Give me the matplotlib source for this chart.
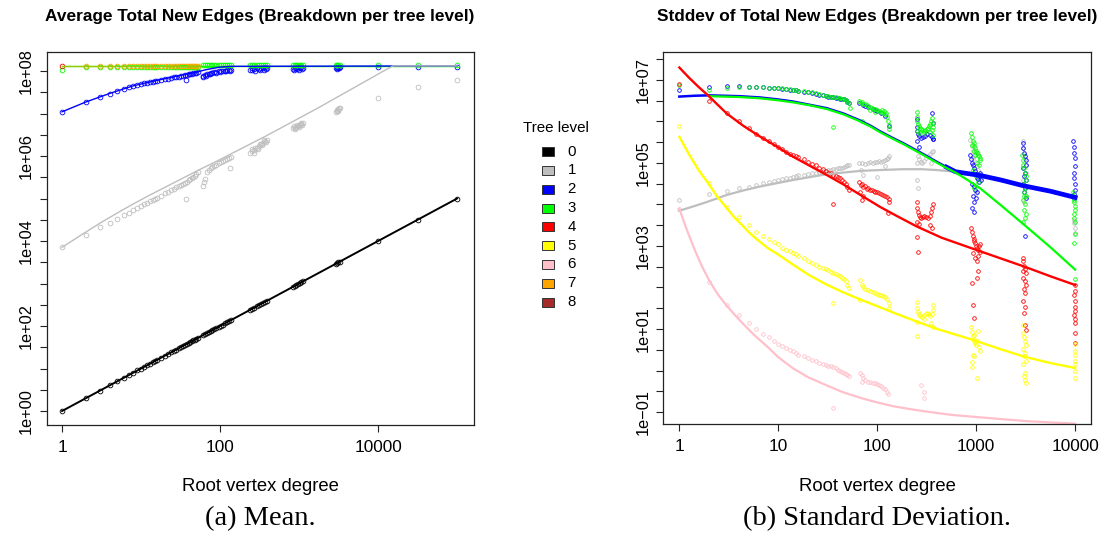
import numpy as np
import matplotlib
matplotlib.use("Agg")
import matplotlib.pyplot as plt
from matplotlib.patches import Rectangle

plt.rcParams['font.family'] = ['Liberation Sans', 'DejaVu Sans']

# R colour names used per tree level
level_colors = ['#000000', '#BEBEBE', '#0000FF', '#00FF00', '#FF0000',
                '#FFFF00', '#FFC0CB', '#FFA500', '#A52A2A']
level_names = ['0', '1', '2', '3', '4', '5', '6', '7', '8']

# root degrees measured one by one
deg = [1, 2, 3, 4, 5, 6, 7, 8, 9, 10, 11, 12, 13, 14, 15, 16, 18, 20, 22, 24,
       26, 28, 30, 32, 34, 36, 38, 40, 42, 44, 46, 48, 50, 52]

# ---------------- mean panel ----------------
# degrees of the grouped samples (60-140, 240-390, 840-1120, ~3000, big roots)
mean_grp = [61, 64, 68, 72, 76, 80, 85, 90, 96, 102, 108, 115, 122, 130, 138,
            240, 255, 270, 290, 310, 330, 350, 370, 390,
            840, 880, 920, 970, 1020, 1070, 1120,
            2950, 3050, 3150, 3250,
            10000, 31623, 100000]
mean_x = deg + mean_grp

# level 0: new edges equal the root degree
mean_l0 = [1, 2, 3, 4, 5, 6, 7, 8, 9, 10, 11, 12, 13, 14, 15, 16, 18, 20, 22, 24,
           26, 28, 30, 32, 34, 36, 38, 40, 42, 44, 46, 48, 50, 52,
           61, 64, 68, 72, 76, 80, 85, 90, 96, 102, 108, 115, 122, 130, 138,
           240, 255, 270, 290, 310, 330, 350, 370, 390,
           840, 880, 920, 970, 1020, 1070, 1120,
           2950, 3050, 3150, 3250,
           10000, 31623, 100000]

# log10 of the mean for levels 1-3
mean_l1_log = [3.85, 4.14, 4.32, 4.43, 4.52, 4.61, 4.66, 4.72, 4.77, 4.82, 4.86, 4.90,
               4.93, 4.96, 4.99, 5.02, 5.07, 5.12, 5.16, 5.20, 5.23, 5.26, 5.29, 5.32,
               5.35, 5.37, 5.40, 5.43, 5.45, 5.48, 5.50, 5.54, 5.58, 5.62,
               5.30, 5.45, 5.62, 5.68, 5.71, 5.74, 5.77, 5.80, 5.83, 5.86, 5.88, 5.91,
               5.93, 5.95, 5.98,
               6.06, 6.12, 6.15, 6.20, 6.24, 6.28, 6.31, 6.35, 6.38,
               6.65, 6.67, 6.69, 6.71, 6.73, 6.75, 6.77,
               7.04, 7.07, 7.10, 7.12,
               7.37, 7.62, 7.80]
mean_l2_log = [7.04, 7.28, 7.40, 7.47, 7.54, 7.58, 7.62, 7.65, 7.67, 7.69, 7.71, 7.72,
               7.74, 7.75, 7.76, 7.77, 7.79, 7.81, 7.82, 7.84, 7.85, 7.86, 7.87, 7.88,
               7.89, 7.90, 7.91, 7.92, 7.93, 7.94, 7.95, 7.96, 7.96, 7.97,
               7.89, 7.91, 7.93, 7.94, 7.95, 7.96, 7.97, 7.98, 7.99, 8.00, 8.01, 8.01,
               8.02, 8.02, 8.03,
               8.03, 8.07, 8.04, 8.08, 8.05, 8.08, 8.06, 8.09, 8.07,
               8.05, 8.08, 8.06, 8.09, 8.07, 8.09, 8.08,
               8.08, 8.10, 8.08, 8.10,
               8.10, 8.10, 8.10]
mean_l3_log = [8.02] + [8.09] * 33 + [8.13] * 38

# extra samples inside the grouped blobs and a few stragglers
mean_l1_ex_x = [37, 133, 63, 250, 265, 280, 300, 320, 340, 360, 380,
                860, 900, 950, 1000, 1050, 1100, 3000, 3100, 3200]
mean_l1_ex_log = [4.98, 5.71, 5.40, 6.16, 6.08, 6.19, 6.16, 6.29, 6.26, 6.37, 6.33,
                  6.70, 6.64, 6.73, 6.68, 6.78, 6.72, 7.09, 7.05, 7.14]
mean_l2_ex_x = [37, 61, 66, 75, 88, 100, 118, 135, 250, 280, 320, 360, 385,
                860, 940, 1000, 1100, 3000, 3200]
mean_l2_ex_log = [7.80, 7.86, 7.88, 7.92, 7.95, 7.97, 7.99, 8.00, 8.02, 8.01, 8.03,
                  8.03, 8.04, 8.03, 8.04, 8.03, 8.05, 8.05, 8.06]

# deeper levels saturate near the graph size for small roots
mean_l4_x = [1]
mean_l4_log = [8.12]
mean_l7_x = deg[1:]
mean_l7_log = [8.12] * 33

# fitted curves: log10(degree), log10(value)
mean_fit_l0_lx = [0.0, 5.0]
mean_fit_l0_log = [0.0, 5.0]
mean_fit_l1_lx = [0, 0.25, 0.48, 0.7, 0.9, 1.1, 1.32, 1.53, 1.74, 1.96, 2.17, 2.38,
                  2.59, 2.8, 3.02, 3.23, 3.43, 3.65, 3.86, 4.05, 4.19, 5.0]
mean_fit_l1_log = [3.85, 4.15, 4.42, 4.66, 4.87, 5.07, 5.28, 5.48, 5.68, 5.88, 6.08,
                   6.28, 6.48, 6.69, 6.91, 7.12, 7.33, 7.56, 7.78, 7.98, 8.12, 8.12]
mean_fit_l2_lx = [0, 0.3, 0.48, 0.6, 0.7, 0.78, 0.9, 1.08, 1.28, 1.48, 1.67, 1.82,
                  1.99, 2.14, 5.0]
mean_fit_l2_log = [7.04, 7.27, 7.39, 7.47, 7.53, 7.58, 7.65, 7.73, 7.81, 7.89, 7.96,
                   8.03, 8.09, 8.11, 8.12]
mean_fit_l3_lx = [0.0, 5.0]
mean_fit_l3_log = [8.12, 8.12]
mean_fit_l7_lx = [0.0, 1.75]
mean_fit_l7_log = [8.12, 8.12]

# ---------------- stddev panel ----------------
sd_l1_log = [4.11, 4.25, 4.33, 4.39, 4.43, 4.47, 4.52, 4.53, 4.56, 4.58, 4.61, 4.63,
             4.65, 4.67, 4.68, 4.70, 4.72, 4.73, 4.75, 4.77, 4.79, 4.80, 4.81, 4.82,
             4.84, 4.85, 4.86, 4.87, 4.88, 4.89, 4.90, 4.92, 4.94, 4.95]
sd_l2_log = [6.77, 6.83, 6.85, 6.85, 6.84, 6.83, 6.82, 6.81, 6.81, 6.80, 6.79, 6.78,
             6.77, 6.76, 6.75, 6.74, 6.72, 6.71, 6.69, 6.67, 6.65, 6.63, 6.61, 6.60,
             6.60, 6.58, 6.57, 6.56, 6.55, 6.54, 6.53, 6.51, 6.48, 6.44]
sd_l3_log = [6.88, 6.77, 6.81, 6.82, 6.83, 6.82, 6.82, 6.81, 6.81, 6.80, 6.80, 6.79,
             6.78, 6.77, 6.76, 6.74, 6.73, 6.72, 6.70, 6.68, 6.66, 6.63, 6.62, 6.61,
             6.60, 6.59, 6.58, 6.57, 6.56, 6.55, 6.53, 6.51, 6.48, 6.44]
sd_l4_log = [6.91, 6.50, 6.20, 6.01, 5.85, 5.69, 5.61, 5.53, 5.45, 5.39, 5.34, 5.27,
             5.22, 5.20, 5.17, 5.15, 5.09, 5.03, 4.98, 4.94, 4.89, 4.85, 4.81, 4.77,
             4.75, 4.72, 4.69, 4.66, 4.63, 4.59, 4.54, 4.50, 4.43, 4.35]
sd_l5_log = [5.90, 4.52, 3.94, 3.69, 3.50, 3.34, 3.23, 3.16, 3.09, 3.05, 2.96, 2.91,
             2.88, 2.84, 2.80, 2.76, 2.71, 2.65, 2.60, 2.55, 2.50, 2.46, 2.44, 2.41,
             2.38, 2.35, 2.32, 2.29, 2.27, 2.24, 2.20, 2.15, 2.07, 1.98]
sd_l6_log = [3.90, 2.14, 1.58, 1.34, 1.15, 1.00, 0.88, 0.80, 0.72, 0.65, 0.58, 0.55,
             0.50, 0.46, 0.41, 0.38, 0.34, 0.30, 0.26, 0.22, 0.18, 0.16, 0.14, 0.12,
             0.10, 0.08, 0.05, 0.02, -0.01, -0.03, -0.05, -0.08, -0.12, -0.14]

# grouped samples per level: degree and log10 stddev
sd_l1_grp_x = [66, 70, 75, 80, 85, 90, 95, 100, 105, 110, 115, 120, 125, 130, 68, 72, 100,
               120, 128,
               250, 258, 266, 275, 285, 295, 310, 325, 340, 355, 365, 255, 350, 252, 258,
               870, 900, 930, 960, 990, 1020, 1050, 1080, 1110, 950, 1000, 920, 1040,
               2950, 3000, 3050, 3100, 3150, 3200, 3000, 3100, 3200, 3050,
               9700, 9800, 9900, 10000]
sd_l1_grp_log = [4.99, 5.01, 4.97, 5.00, 5.02, 5.01, 5.03, 5.02, 5.04, 5.03, 5.05, 5.07,
                 5.09, 5.16, 4.82, 4.72, 4.67, 4.92, 5.11,
                 5.32, 5.18, 5.09, 5.03, 5.01, 5.05, 5.11, 5.16, 5.22, 5.26, 5.30, 4.99,
                 4.99, 4.59, 4.40,
                 5.56, 5.41, 5.28, 5.16, 5.03, 4.92, 4.82, 4.73, 4.63, 4.44, 4.28, 5.11, 5.25,
                 5.53, 5.37, 5.22, 5.09, 4.94, 4.77, 4.58, 4.39, 4.20, 4.07,
                 3.63, 3.55, 3.44, 3.31]
sd_l2_grp_x = [66, 72, 80, 90, 100, 110, 120, 130, 75, 95,
               250, 255, 260, 265, 275, 290, 305, 320, 340, 355, 365, 370, 252, 262, 360,
               368, 250,
               870, 890, 910, 930, 950, 970, 990, 1010, 1030, 1050, 1070, 1090, 1110, 900,
               940, 980, 1020, 1060, 920, 960, 1000, 900, 940,
               2950, 3000, 3050, 3100, 3150, 3200, 3000, 3100, 3050, 3150, 2950, 3100, 3050,
               3200, 3100,
               9600, 9700, 9800, 9900, 10000, 9700, 9800, 9900, 10000, 9700, 9800]
sd_l2_grp_log = [6.44, 6.40, 6.35, 6.29, 6.25, 6.20, 6.14, 5.89, 6.37, 6.27,
                 5.87, 5.78, 5.70, 5.64, 5.60, 5.63, 5.66, 5.70, 5.68, 5.63, 5.58, 5.97,
                 5.52, 5.39, 6.20, 5.57, 6.06,
                 5.19, 5.09, 5.01, 4.94, 4.87, 4.80, 4.74, 4.71, 4.65, 4.61, 4.68, 4.77,
                 4.58, 4.49, 4.44, 4.34, 4.30, 4.53, 4.20, 4.06, 4.15, 3.91, 3.83,
                 5.48, 5.35, 5.25, 5.16, 5.06, 4.96, 4.87, 4.77, 4.68, 4.58, 4.49, 4.39,
                 4.30, 4.15, 3.23,
                 5.52, 5.39, 5.25, 5.11, 4.92, 4.77, 4.63, 4.49, 4.34, 4.25, 4.15]
sd_l3_grp_x = [36, 53,
               66, 68, 70, 72, 75, 78, 80, 84, 88, 92, 96, 100, 105, 110, 115, 120, 125,
               128, 130, 132, 70, 85, 95, 112, 118, 122,
               250, 252, 255, 258, 262, 268, 275, 285, 295, 305, 315, 325, 335, 345, 352,
               358, 364, 368, 255, 265, 300, 340, 360, 370,
               880, 900, 920, 940, 960, 980, 1000, 1020, 1040, 1060, 1080, 1100, 900, 940,
               980, 1020, 1060, 920, 1000, 1050, 960,
               2900, 2950, 3000, 3050, 3100, 3150, 3200, 3000, 3100, 3050, 3150, 3000,
               3100, 3050, 3150, 3100, 3000, 3050,
               9500, 9600, 9700, 9800, 9900, 10000, 9800, 9700, 9900, 10000, 9800, 10000]
sd_l3_grp_log = [5.87, 6.32,
                 6.50, 6.44, 6.47, 6.42, 6.41, 6.39, 6.37, 6.35, 6.33, 6.31, 6.29, 6.28,
                 6.25, 6.23, 6.20, 6.18, 6.11, 6.01, 5.92, 5.82, 6.02, 6.27, 6.24, 6.28,
                 6.25, 6.21,
                 6.23, 6.11, 6.01, 5.95, 5.89, 5.85, 5.82, 5.79, 5.78, 5.79, 5.81, 5.85,
                 5.89, 5.95, 6.01, 6.08, 5.97, 5.87, 5.78, 5.73, 5.72, 5.74, 5.79, 5.68,
                 5.72, 5.63, 5.54, 5.49, 5.41, 5.35, 5.30, 5.25, 5.20, 5.16, 5.11, 5.06,
                 5.44, 5.30, 5.20, 5.01, 4.96, 4.82, 4.68, 4.53, 4.39,
                 5.19, 5.06, 4.96, 4.87, 4.77, 4.68, 4.58, 4.49, 4.39, 4.30, 4.20, 4.11,
                 4.01, 3.87, 3.77, 3.68, 3.59, 4.20,
                 4.31, 4.20, 4.11, 4.06, 3.96, 3.87, 3.77, 3.68, 3.58, 3.30, 3.08, 2.20]
sd_l4_grp_x = [36,
               66, 68, 70, 72, 75, 78, 80, 84, 88, 92, 96, 100, 105, 110, 115, 120, 125,
               130, 132, 128, 67, 72, 70,
               250, 254, 258, 263, 270, 280, 290, 300, 312, 325, 338, 350, 360, 368, 255,
               262, 345, 360, 252, 256,
               880, 900, 920, 940, 960, 980, 1000, 1020, 1040, 1060, 1080, 1100, 930, 970,
               1010, 1050, 900, 920, 940, 1050, 1020,
               2950, 3000, 3050, 3100, 3150, 3000, 3100, 3150, 3050, 3100, 3000, 3100,
               3050, 3100, 3150, 3000,
               10000, 10000, 9800, 10000, 9900, 10000, 9800, 10000, 9900, 10000, 10000]
sd_l4_grp_log = [4.00,
                 4.53, 4.46, 4.50, 4.42, 4.44, 4.38, 4.40, 4.36, 4.34, 4.32, 4.31, 4.30,
                 4.27, 4.25, 4.23, 4.21, 4.17, 4.13, 4.06, 3.79, 4.30, 4.20, 4.11,
                 4.07, 3.91, 3.82, 3.75, 3.70, 3.68, 3.69, 3.72, 3.70, 3.68, 3.72, 3.82,
                 3.91, 4.01, 3.58, 3.53, 3.50, 3.44, 3.21, 2.86,
                 3.44, 3.34, 3.25, 3.18, 3.12, 3.07, 3.01, 2.96, 2.91, 2.99, 3.06, 2.86,
                 2.82, 2.72, 2.63, 2.77, 2.11, 1.58, 1.26, 2.39, 2.24,
                 2.71, 2.63, 2.53, 2.44, 2.34, 2.24, 2.15, 2.05, 1.96, 1.86, 1.67, 1.53,
                 1.39, 1.10, 0.98, 2.39,
                 2.06, 1.91, 1.81, 1.67, 1.53, 1.43, 1.34, 1.24, 1.15, 0.91, 0.66]
sd_l5_grp_x = [36,
               67, 70, 72, 75, 80, 85, 90, 95, 100, 105, 110, 115, 120, 125, 130, 132, 67,
               250, 254, 258, 264, 272, 282, 295, 308, 320, 332, 344, 355, 362, 368, 255,
               252, 300, 350, 365,
               880, 900, 920, 940, 960, 980, 1000, 1030, 1060, 1100, 920, 950, 900, 900,
               1020, 960, 1040,
               2950, 3000, 3050, 3100, 3150, 3000, 3100, 3050, 3150, 3000, 3100, 3050,
               3100, 3150,
               10000, 10000, 9900, 10000, 10000, 10000, 10000]
sd_l5_grp_log = [1.63,
                 2.18, 2.05, 2.01, 1.96, 1.94, 1.91, 1.88, 1.86, 1.84, 1.82, 1.81, 1.79,
                 1.77, 1.72, 1.62, 1.50, 1.70,
                 1.66, 1.50, 1.40, 1.35, 1.32, 1.30, 1.33, 1.36, 1.39, 1.35, 1.31, 1.37,
                 1.46, 1.58, 1.18, 0.83, 1.24, 1.15, 1.05,
                 1.05, 0.93, 0.83, 0.77, 0.72, 0.67, 0.62, 0.72, 0.57, 0.48, 0.38, 0.34,
                 0.21, 0.09, -0.19, 0.86, 0.96,
                 1.10, 0.91, 0.81, 0.72, 0.62, 0.53, 0.43, 0.34, 0.24, 0.15, -0.05, -0.14,
                 -0.24, -0.31,
                 0.65, 0.48, 0.38, 0.24, 0.15, 0.00, -0.19]
sd_l6_grp_x = [36,
               67, 70, 72, 75, 80, 85, 90, 95, 100, 105, 110, 115, 120, 125, 128, 70,
               275, 298, 298]
sd_l6_grp_log = [-0.91,
                 -0.05, -0.12, -0.19, -0.24, -0.27, -0.28, -0.30, -0.31, -0.33, -0.35,
                 -0.38, -0.41, -0.45, -0.52, -0.57, -0.28,
                 -0.35, -0.51, -0.66]

# fitted curves: log10(degree), log10(stddev)
sd_fit_l1_lx = [0, 0.15, 0.29, 0.48, 0.65, 0.81, 1.0, 1.15, 1.32, 1.49, 1.66, 1.83,
                2.03, 2.26, 2.45, 2.6, 2.79, 2.85]
sd_fit_l1_log = [3.85, 3.96, 4.07, 4.23, 4.34, 4.43, 4.52, 4.59, 4.66, 4.73, 4.77, 4.81,
                 4.83, 4.85, 4.85, 4.83, 4.79, 4.77]
sd_fit_l2_lx = [0, 0.15, 0.3, 0.45, 0.6, 0.81, 1.0, 1.15, 1.32, 1.49, 1.66, 1.82, 1.93,
                2.03, 2.15, 2.26, 2.43, 2.6, 2.70, 2.79, 2.9, 3.04, 3.25, 3.48, 3.75, 4.0]
sd_fit_l2_log = [6.60, 6.62, 6.63, 6.62, 6.61, 6.58, 6.53, 6.48, 6.40, 6.32, 6.19, 6.03,
                 5.90, 5.76, 5.61, 5.48, 5.26, 5.03, 4.90, 4.79, 4.75, 4.70, 4.59, 4.45,
                 4.32, 4.17]
sd_fit_l3_lx = [0.3, 0.45, 0.6, 0.81, 1.0, 1.15, 1.32, 1.49, 1.66, 1.82, 1.93, 2.03,
                2.15, 2.26, 2.43, 2.6, 2.70, 2.79, 2.9, 3.04, 3.25, 3.48, 3.75, 4.0]
sd_fit_l3_log = [6.61, 6.60, 6.59, 6.56, 6.51, 6.46, 6.39, 6.30, 6.17, 6.01, 5.88, 5.74,
                 5.59, 5.46, 5.24, 5.01, 4.88, 4.77, 4.61, 4.39, 3.98, 3.52, 2.97, 2.43]
sd_fit_l4_lx = [0, 0.1, 0.2, 0.29, 0.38, 0.48, 0.65, 0.82, 0.99, 1.15, 1.32, 1.49, 1.66,
                1.83, 2.03, 2.2, 2.4, 2.65, 2.9, 3.2, 3.49, 3.75, 4.0]
sd_fit_l4_log = [7.30, 7.05, 6.82, 6.63, 6.42, 6.19, 5.89, 5.63, 5.39, 5.15, 4.93, 4.71,
                 4.48, 4.23, 3.94, 3.72, 3.47, 3.20, 2.99, 2.74, 2.50, 2.27, 2.06]
sd_fit_l5_lx = [0, 0.1, 0.2, 0.29, 0.38, 0.47, 0.56, 0.64, 0.72, 0.81, 0.9, 0.99, 1.15,
                1.31, 1.48, 1.65, 1.82, 1.99, 2.2, 2.41, 2.62, 2.84, 2.99, 3.25, 3.49, 3.75,
                4.0]
sd_fit_l5_log = [5.63, 5.20, 4.81, 4.52, 4.20, 3.94, 3.68, 3.49, 3.29, 3.11, 2.94, 2.81,
                 2.55, 2.30, 2.08, 1.89, 1.72, 1.56, 1.36, 1.17, 0.99, 0.83, 0.72, 0.51,
                 0.33, 0.18, 0.06]
sd_fit_l6_lx = [0, 0.05, 0.10, 0.15, 0.20, 0.25, 0.30, 0.35, 0.40, 0.48, 0.56, 0.65,
                0.75, 0.82, 0.90, 1.00, 1.15, 1.30, 1.49, 1.65, 1.83, 2.00, 2.16, 2.33,
                2.50, 2.75, 3.00, 3.25, 3.51, 3.75, 4.00]
sd_fit_l6_log = [3.90, 3.56, 3.24, 2.94, 2.66, 2.41, 2.18, 1.98, 1.80, 1.56, 1.34, 1.11,
                 0.87, 0.72, 0.55, 0.32, 0.05, -0.16, -0.36, -0.52, -0.66, -0.77, -0.86,
                 -0.93, -0.99, -1.07, -1.12, -1.17, -1.22, -1.25, -1.28]


def pw(v):
    return np.power(10.0, np.asarray(v, dtype=float))


def pts(ax, x, y, col, ms):
    ax.plot(x, y, ls='none', marker='o', mfc='none', mec=col, ms=ms, mew=0.6)


def style_axes(ax, xticks, xlabels, ylo, yhi, ylab_decades):
    ax.set_xscale('log')
    ax.set_yscale('log')
    ax.set_xticks(xticks)
    ax.set_xticklabels(xlabels)
    yt = np.arange(ylo, yhi + 0.01, 0.5)
    ax.set_yticks(pw(yt))
    labs = []
    for t in yt:
        if abs(t - round(t)) < 1e-6 and int(round(t)) in ylab_decades:
            e = int(round(t))
            labs.append('1e%s%02d' % ('\u2212' if e < 0 else '+', abs(e)))
        else:
            labs.append('')
    ax.set_yticklabels(labs, rotation=90, va='center')
    ax.minorticks_off()
    ax.tick_params(direction='out', length=5, width=0.8, colors='#222222',
                   labelcolor='black')
    ax.tick_params(axis='x', labelsize=12.4, pad=6)
    ax.tick_params(axis='y', labelsize=11.8, pad=4)
    for s in ax.spines.values():
        s.set_linewidth(0.9)
        s.set_color('#222222')


fig = plt.figure(figsize=(11.05, 5.38), dpi=100)
W, H = 1105.0, 538.0
ax1 = fig.add_axes([46.7 / W, 113 / H, 427 / W, 372.7 / H])
ax2 = fig.add_axes([663.3 / W, 114 / H, 427.7 / W, 371.7 / H])

# ---- mean panel ----
ms1 = 3.4
pts(ax1, mean_x, mean_l0, level_colors[0], ms1)
pts(ax1, mean_x, pw(mean_l1_log), level_colors[1], ms1)
pts(ax1, mean_l1_ex_x, pw(mean_l1_ex_log), level_colors[1], ms1)
pts(ax1, mean_x, pw(mean_l2_log), level_colors[2], ms1)
pts(ax1, mean_l2_ex_x, pw(mean_l2_ex_log), level_colors[2], ms1)
pts(ax1, mean_x, pw(mean_l3_log), level_colors[3], ms1)
pts(ax1, mean_l4_x, pw(mean_l4_log), level_colors[4], ms1)
pts(ax1, mean_l7_x, pw(mean_l7_log), level_colors[7], ms1)

ax1.plot(pw(mean_fit_l3_lx), pw(mean_fit_l3_log), color=level_colors[3], lw=1.0)
ax1.plot(pw(mean_fit_l7_lx), pw(mean_fit_l7_log), color=level_colors[7], lw=1.0, alpha=0.6)
ax1.plot(pw(mean_fit_l2_lx), pw(mean_fit_l2_log), color=level_colors[2], lw=1.0)
ax1.plot(pw(mean_fit_l1_lx), pw(mean_fit_l1_log), color=level_colors[1], lw=1.0)
ax1.plot(pw(mean_fit_l0_lx), pw(mean_fit_l0_log), color=level_colors[0], lw=1.4)

style_axes(ax1, [1, 100, 10000], ['1', '100', '10000'], 0, 8, [0, 2, 4, 6, 8])
ax1.set_xlim(10 ** -0.194, 10 ** 5.21)
ax1.set_ylim(10 ** -0.329, 10 ** 8.44)

# ---- stddev panel ----
ms2 = 2.6
sd_sets = [(sd_l1_log, sd_l1_grp_x, sd_l1_grp_log, 1),
           (sd_l2_log, sd_l2_grp_x, sd_l2_grp_log, 2),
           (sd_l3_log, sd_l3_grp_x, sd_l3_grp_log, 3),
           (sd_l4_log, sd_l4_grp_x, sd_l4_grp_log, 4),
           (sd_l5_log, sd_l5_grp_x, sd_l5_grp_log, 5),
           (sd_l6_log, sd_l6_grp_x, sd_l6_grp_log, 6)]
for one_log, gx, glog, lvl in sd_sets:
    pts(ax2, deg, pw(one_log), level_colors[lvl], ms2)
    pts(ax2, gx, pw(glog), level_colors[lvl], ms2)

ax2.plot(pw(sd_fit_l1_lx), pw(sd_fit_l1_log), color=level_colors[1], lw=1.6)
ax2.plot(pw(sd_fit_l2_lx), pw(sd_fit_l2_log), color=level_colors[2], lw=1.8)
ax2.plot(pw(sd_fit_l2_lx[18:]), pw(sd_fit_l2_log[18:]), color=level_colors[2], lw=3.4)
ax2.plot(pw(sd_fit_l3_lx), pw(sd_fit_l3_log), color=level_colors[3], lw=1.6)
ax2.plot(pw(sd_fit_l4_lx), pw(sd_fit_l4_log), color=level_colors[4], lw=1.7)
ax2.plot(pw(sd_fit_l5_lx), pw(sd_fit_l5_log), color=level_colors[5], lw=1.7)
ax2.plot(pw(sd_fit_l6_lx), pw(sd_fit_l6_log), color=level_colors[6], lw=1.6)

style_axes(ax2, [1, 10, 100, 1000, 10000], ['1', '10', '100', '1000', '10000'],
           -1, 7.5, [-1, 1, 3, 5, 7])
ax2.set_xlim(10 ** -0.162, 10 ** 4.16)
ax2.set_ylim(10 ** -1.289, 10 ** 7.667)

# ---- titles, axis labels, captions ----
fig.text(260 / W, 1 - 16.7 / H, 'Average Total New Edges (Breakdown per tree level)',
         ha='center', va='center', fontsize=12.4, fontweight='bold')
fig.text(877 / W, 1 - 16.7 / H, 'Stddev of Total New Edges (Breakdown per tree level)',
         ha='center', va='center', fontsize=12.4, fontweight='bold')
for cx in (260, 877):
    fig.text(cx / W, 1 - 486.7 / H, 'Root vertex degree', ha='center', va='center',
             fontsize=13.3)
fig.text(260 / W, 1 - 519 / H, '(a) Mean.', ha='center', va='center', fontsize=20.5,
         family=['Liberation Serif', 'DejaVu Serif'])
fig.text(877 / W, 1 - 519 / H, '(b) Standard Deviation.', ha='center', va='center',
         fontsize=20.5, family=['Liberation Serif', 'DejaVu Serif'])

# ---- legend (tree level) ----
fig.text(556 / W, 1 - 128.3 / H, 'Tree level', ha='center', va='center', fontsize=10.9)
for i, (name, col) in enumerate(zip(level_names, level_colors)):
    yc = 151.7 + i * 18.8
    fig.add_artist(Rectangle((542 / W, 1 - (yc + 4.5) / H), 12 / W, 9 / H,
                             transform=fig.transFigure, facecolor=col,
                             edgecolor='#333333', lw=0.7))
    fig.text(567.5 / W, 1 - yc / H, name, ha='left', va='center', fontsize=10.8)

fig.savefig('out.png', dpi=100)
